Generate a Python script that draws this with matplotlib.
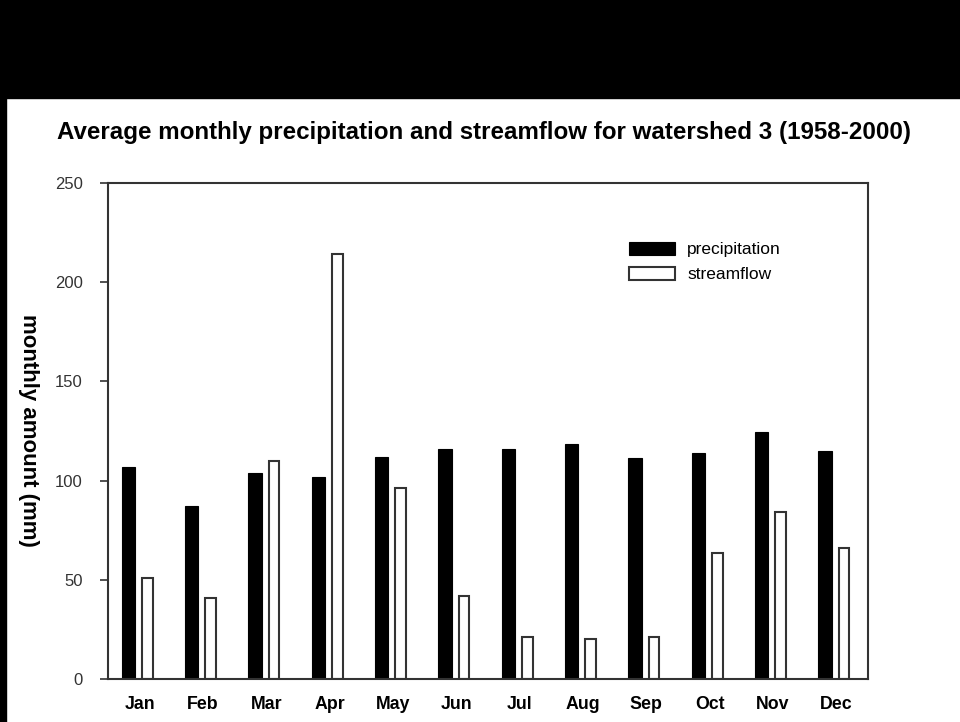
import numpy as np
import matplotlib
matplotlib.use("Agg")
import matplotlib.pyplot as plt
from matplotlib.patches import Rectangle

plt.rcParams["font.family"] = ["Liberation Sans", "DejaVu Sans"]

# Watershed 3 monthly averages, 1958-2000 (mm)
months = ["Jan", "Feb", "Mar", "Apr", "May", "Jun",
          "Jul", "Aug", "Sep", "Oct", "Nov", "Dec"]
precipitation = [107, 87, 104, 102, 112, 116, 116, 118.5, 111.5, 114, 124.5, 115]
streamflow = [51, 41, 110, 214, 96.5, 42, 21, 20, 21, 63.5, 84, 66]

fig = plt.figure(figsize=(9.6, 7.22), dpi=100)

# black banner across the top and strip down the left edge
fig.patches.append(Rectangle((0, 1 - 98 / 722), 1, 98 / 722,
                             transform=fig.transFigure, color="black", zorder=0))
fig.patches.append(Rectangle((0, 0), 6 / 960, 1,
                             transform=fig.transFigure, color="black", zorder=0))

ax = fig.add_axes([108 / 960, 1 - 679 / 722, 760 / 960, 496 / 722])

x = np.arange(len(months))
ax.bar(x - 0.18, precipitation, width=0.21, color="black",
       edgecolor="black", linewidth=0.8, label="precipitation")
ax.bar(x + 0.12, streamflow, width=0.17, color="white",
       edgecolor="#333333", linewidth=1.5, label="streamflow")

ax.set_xlim(-0.5, 11.5)
ax.set_ylim(0, 250)
ax.set_yticks([0, 50, 100, 150, 200, 250])
ax.set_xticks(x)
ax.set_xticklabels(months, fontweight="bold", fontsize=12.8)
ax.tick_params(axis="x", length=0, pad=12)
ax.tick_params(axis="y", length=6, width=1.2, pad=12, labelsize=12,
               labelcolor="#333333", color="#333333")
for sp in ax.spines.values():
    sp.set_linewidth(1.5)
    sp.set_color("#333333")

ax.legend(loc="upper left", bbox_to_anchor=(629 / 960, 1 - 242 / 722),
          bbox_transform=fig.transFigure, frameon=False, fontsize=12.5,
          borderpad=0, handlelength=2.65, handleheight=0.75,
          handletextpad=0.7, labelspacing=0.55, borderaxespad=0)

fig.text(484 / 960, 1 - 133 / 722,
         "Average monthly precipitation and streamflow for watershed 3 (1958-2000)",
         ha="center", va="center", fontsize=17.4, fontweight="bold")
fig.text(28 / 960, 1 - 430 / 722, "monthly amount (mm)", rotation=-90,
         ha="center", va="center", fontsize=16, fontweight="bold")

fig.savefig("out.png", dpi=100)
